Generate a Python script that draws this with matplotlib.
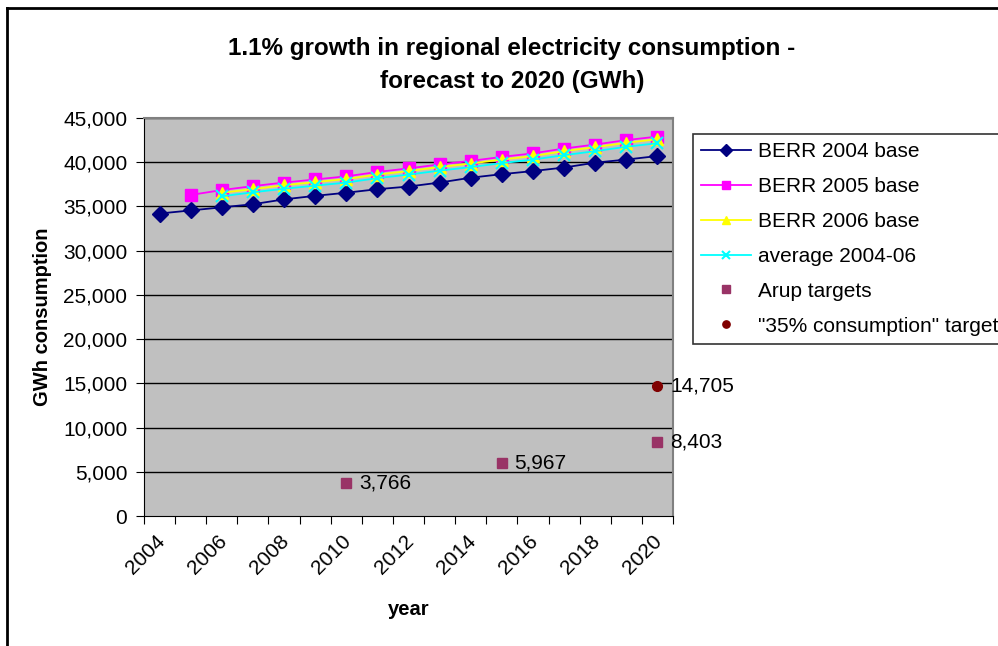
import matplotlib
matplotlib.use("Agg")
import matplotlib.pyplot as plt
from matplotlib.lines import Line2D
from matplotlib.ticker import FuncFormatter

plt.rcParams['font.family'] = ['Liberation Sans', 'DejaVu Sans']

years = list(range(2004, 2021))
# forecasts (GWh)
berr2004 = [34200, 34550, 34900, 35250, 35800, 36200, 36550, 36950, 37250,
            37700, 38250, 38650, 39000, 39400, 39950, 40300, 40700]
berr2005 = [36300, 36850, 37300, 37700, 38050, 38400, 38900, 39300, 39750,
            40150, 40600, 41000, 41550, 42000, 42500, 42900]
berr2006 = [36550, 36950, 37400, 37750, 38100, 38600, 39000, 39450, 39850,
            40300, 40700, 41250, 41700, 42200, 42600]
average = [36150, 36600, 37000, 37350, 37700, 38200, 38600, 39050, 39450,
           39900, 40300, 40800, 41250, 41750, 42150]
arup_years = [2010, 2015, 2020]
arup_vals = [3766, 5967, 8403]
target_years = [2020]
target_vals = [14705]

def idx(yrs):
    return [years.index(y) for y in yrs]

fig = plt.figure(figsize=(9.98, 6.46), dpi=100)
ax = fig.add_axes([144/998, 1-516/646, 529/998, 398/646])
ax.set_facecolor('#c0c0c0')

# horizontal gridlines
for v in range(5000, 45001, 5000):
    ax.axhline(v, color='black', lw=1, zorder=1)

ax.plot(idx(years), berr2004, color='#000080', marker='D', ms=8, lw=1.3,
        label='BERR 2004 base', zorder=3)
ax.plot(idx(years[1:]), berr2005, color='#ff00ff', marker='s', ms=8, lw=1.3,
        label='BERR 2005 base', zorder=3)
ax.plot(idx(years[2:]), berr2006, color='#ffff00', marker='^', ms=8, lw=1.3,
        label='BERR 2006 base', zorder=4)
ax.plot(idx(years[2:]), average, color='#00ffff', marker='x', ms=8, mew=1.5,
        lw=1.3, label='average 2004-06', zorder=5)
ax.plot(idx(arup_years), arup_vals, ls='none', marker='s', ms=7,
        color='#993366', label='Arup targets', zorder=3)
ax.plot(idx(target_years), target_vals, ls='none', marker='o', ms=7,
        color='#800000', label='"35% consumption" target', zorder=3)

for x, v in zip(idx(arup_years) + idx(target_years), arup_vals + target_vals):
    ax.annotate(f'{v:,}', (x, v), xytext=(9, 0), textcoords='offset points',
                va='center', ha='left', fontsize=15, color='black',
                annotation_clip=False)

ax.set_xlim(-0.5, 16.5)
ax.set_ylim(0, 45000)
ax.set_yticks(range(0, 45001, 5000))
ax.yaxis.set_major_formatter(FuncFormatter(lambda v, p: f'{int(v):,}'))
ax.tick_params(axis='y', labelsize=15, length=6, direction='out', pad=6)

# category boundaries as ticks, labels on every second year
ax.set_xticks([i - 0.5 for i in range(18)])
ax.set_xticklabels([])
ax.tick_params(axis='x', which='major', length=6, direction='out')
ax.set_xticks([i - 0.15 for i in range(0, 17, 2)], minor=True)
ax.set_xticklabels([str(y) for y in years[::2]], minor=True, rotation=45,
                   ha='right', rotation_mode='anchor', fontsize=15)
ax.tick_params(axis='x', which='minor', length=0, pad=11)

for s in ['top', 'right']:
    ax.spines[s].set_color('#808080')
    ax.spines[s].set_linewidth(1.5)
for s in ['left', 'bottom']:
    ax.spines[s].set_color('black')

ax.set_ylabel('GWh consumption', fontsize=14.5, fontweight='bold', labelpad=8)
ax.set_xlabel('year', fontsize=14.5, fontweight='bold', labelpad=16)

fig.text(0.513, 1 - 65/646,
         '1.1% growth in regional electricity consumption -\nforecast to 2020 (GWh)',
         ha='center', va='center', fontsize=17.5, fontweight='bold',
         linespacing=1.55)

leg = ax.legend(loc='upper left', bbox_to_anchor=(693/998, 1 - 134/646),
                bbox_transform=fig.transFigure, fontsize=15, frameon=True,
                fancybox=False, edgecolor='black', borderaxespad=0,
                handlelength=2.4, labelspacing=0.76, borderpad=0.4,
                handletextpad=0.3, markerscale=0.75)
leg.get_frame().set_linewidth(1.2)

# outer chart frame (left and top edges visible)
fig.add_artist(Line2D([7/998, 7/998], [0, 1 - 8/646], transform=fig.transFigure,
                      color='black', lw=2))
fig.add_artist(Line2D([7/998, 1], [1 - 8/646, 1 - 8/646],
                      transform=fig.transFigure, color='black', lw=2))

fig.savefig('out.png', dpi=100)
